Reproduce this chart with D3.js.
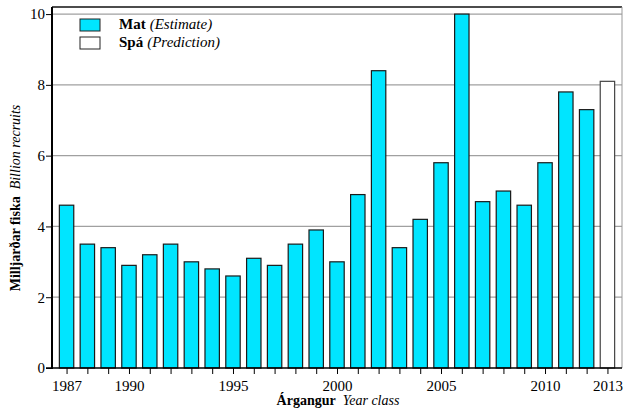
<!DOCTYPE html>
<html>
<head>
<meta charset="utf-8">
<title>Árgangar</title>
<script src="https://d3js.org/d3.v7.min.js"></script>
<style>
  body { margin: 0; background: #fff; }
  svg text { font-family: "Liberation Serif", "Times New Roman", serif !important; fill: #000; }
</style>
</head>
<body>
<div id="chart"></div>
<script>
// year classes and recruits (billions)
var years = [1987, 1988, 1989, 1990, 1991, 1992, 1993, 1994, 1995, 1996, 1997, 1998, 1999,
             2000, 2001, 2002, 2003, 2004, 2005, 2006, 2007, 2008, 2009, 2010, 2011, 2012, 2013];
var values = [4.6, 3.5, 3.4, 2.9, 3.2, 3.5, 3.0, 2.8, 2.6, 3.1, 2.9, 3.5, 3.9,
              3.0, 4.9, 8.4, 3.4, 4.2, 5.8, 10.0, 4.7, 5.0, 4.6, 5.8, 7.8, 7.3, 8.1];
// last one is the prediction
var kinds = years.map(function (y) { return y == 2013 ? "pred" : "est"; });
var xTickLabels = [1987, 1990, 1995, 2000, 2005, 2010, 2013];
var yTicks = [0, 2, 4, 6, 8, 10];

var W = 623, H = 410;
// plot box (note: "top" is reserved on window, so use pl/pr/pt/pb)
var pl = 52, pr = 622, pt = 7, pb = 368;

var svg = d3.select("#chart").append("svg")
    .attr("width", W).attr("height", H);

var x = d3.scaleLinear().domain([1986.3, 2013.7]).range([pl, pr]);
var y = d3.scaleLinear().domain([0, 10.2]).range([pb, pt]);
var barW = 14.4;

// gridlines
svg.append("g").selectAll("line")
    .data(yTicks.filter(function (d) { return d > 0; }))
    .enter().append("line")
    .attr("x1", pl).attr("x2", pr)
    .attr("y1", function (d) { return y(d); })
    .attr("y2", function (d) { return y(d); })
    .attr("stroke", "#a0a0a0").attr("stroke-width", 1.2);

// top and right borders
svg.append("line").attr("x1", pl).attr("x2", pr).attr("y1", pt).attr("y2", pt)
    .attr("stroke", "#111").attr("stroke-width", 1.6);
svg.append("line").attr("x1", pr).attr("x2", pr).attr("y1", pt).attr("y2", pb)
    .attr("stroke", "#999").attr("stroke-width", 1);

// bars
svg.append("g").selectAll("rect")
    .data(years)
    .enter().append("rect")
    .attr("x", function (d) { return x(d) - barW / 2; })
    .attr("width", barW)
    .attr("y", function (d, i) { return y(values[i]); })
    .attr("height", function (d, i) { return y(0) - y(values[i]); })
    .attr("fill", function (d, i) { return kinds[i] == "pred" ? "#fff" : "#00e5ff"; })
    .attr("stroke", function (d, i) { return kinds[i] == "pred" ? "#444" : "#1a1a1a"; })
    .attr("stroke-width", 1.2);

// x axis
var xAxis = d3.axisBottom(x)
    .tickValues(years)
    .tickSize(6)
    .tickFormat(function (d) { return xTickLabels.indexOf(d) >= 0 ? d : ""; });
var gx = svg.append("g").attr("transform", "translate(0," + pb + ")").call(xAxis);
gx.attr("font-family", null);
gx.select(".domain").remove();
gx.selectAll(".tick line").attr("stroke", "#000").attr("stroke-width", 1);
gx.selectAll(".tick text").attr("dy", "0.9em").style("font-size", "15px");
svg.append("line").attr("x1", pl - 6).attr("x2", pr).attr("y1", pb).attr("y2", pb)
    .attr("stroke", "#000").attr("stroke-width", 1.6);

// y axis
var yAxis = d3.axisLeft(y).tickValues(yTicks).tickSize(6);
var gy = svg.append("g").attr("transform", "translate(" + pl + ",0)").call(yAxis);
gy.attr("font-family", null);
gy.select(".domain").remove();
gy.selectAll(".tick line").attr("stroke", "#000").attr("stroke-width", 1);
gy.selectAll(".tick text").attr("x", -7).style("font-size", "15px");
svg.append("line").attr("x1", pl).attr("x2", pl).attr("y1", pt).attr("y2", pb + 1)
    .attr("stroke", "#000").attr("stroke-width", 2);

// axis titles
var xt = svg.append("text").attr("x", 338).attr("y", 405)
    .attr("text-anchor", "middle").style("font-size", "14px");
xt.append("tspan").attr("font-weight", "bold").text("Árgangur");
xt.append("tspan").attr("font-style", "italic").attr("dx", 7).text("Year class");

var yt = svg.append("text")
    .attr("transform", "translate(20,198) rotate(-90)")
    .attr("text-anchor", "middle").style("font-size", "14px");
yt.append("tspan").attr("font-weight", "bold").text("Milljarðar fiska");
yt.append("tspan").attr("font-style", "italic").attr("dx", 7).text("Billion recruits");

// legend
var legend = [
    { bold: "Mat", it: "(Estimate)", fill: "#00e5ff" },
    { bold: "Spá", it: "(Prediction)", fill: "#fff" }
];
var lg = svg.append("g").selectAll("g").data(legend).enter().append("g")
    .attr("transform", function (d, i) { return "translate(80," + (19 + i * 18) + ")"; });
lg.append("rect").attr("width", 20).attr("height", 12)
    .attr("fill", function (d) { return d.fill; })
    .attr("stroke", "#222").attr("stroke-width", 1);
var lt = lg.append("text").attr("x", 39).attr("y", 10).style("font-size", "15px");
lt.append("tspan").attr("font-weight", "bold").text(function (d) { return d.bold; });
lt.append("tspan").attr("font-style", "italic").attr("dx", 4).text(function (d) { return d.it; });
</script>
</body>
</html>
